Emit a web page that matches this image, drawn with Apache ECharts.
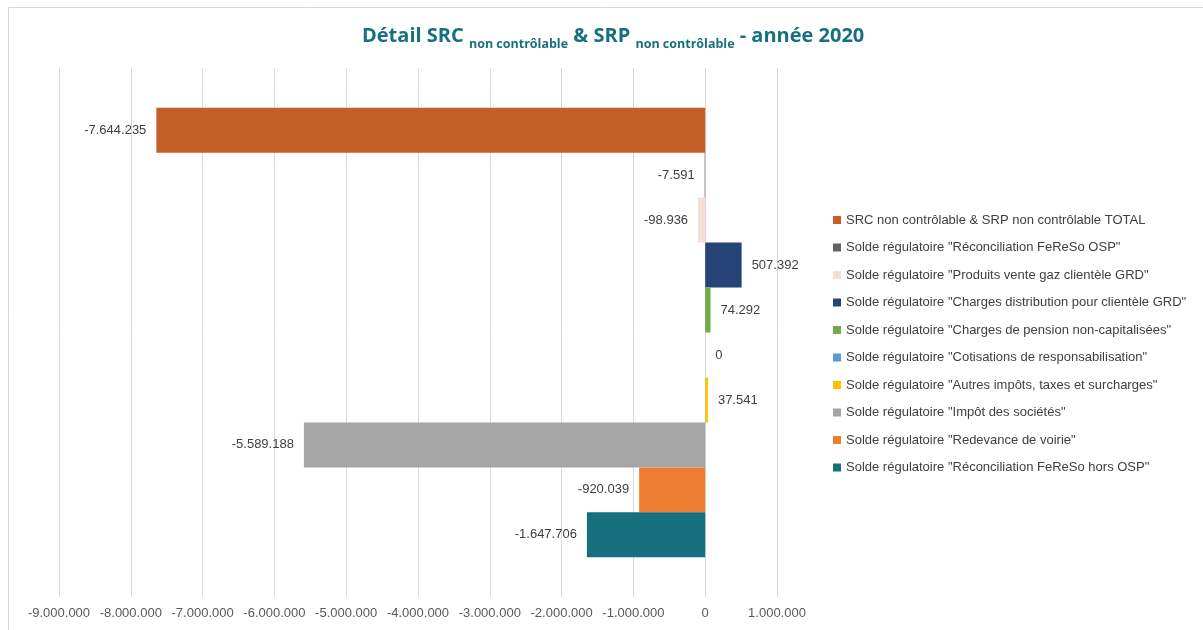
<!DOCTYPE html>
<html>
<head>
<meta charset="utf-8">
<script src="https://cdn.jsdelivr.net/npm/echarts@6/dist/echarts.min.js"></script>
<style>html,body{margin:0;padding:0;background:#fff;}#c{width:1203px;height:630px;}</style>
</head>
<body>
<div id="c"></div>
<script>
const seriesNames = [
  'SRC non contrôlable & SRP non contrôlable TOTAL',
  'Solde régulatoire "Réconciliation FeReSo OSP"',
  'Solde régulatoire "Produits vente gaz clientèle GRD"',
  'Solde régulatoire "Charges distribution pour clientèle GRD"',
  'Solde régulatoire "Charges de pension non-capitalisées"',
  'Solde régulatoire "Cotisations de responsabilisation"',
  'Solde régulatoire "Autres impôts, taxes et surcharges"',
  'Solde régulatoire "Impôt des sociétés"',
  'Solde régulatoire "Redevance de voirie"',
  'Solde régulatoire "Réconciliation FeReSo hors OSP"'
];
const seriesValues = [-7644235, -7591, -98936, 507392, 74292, 0, 37541, -5589188, -920039, -1647706];
const seriesColors = ['#C55F27', '#636363', '#F6DDD3', '#264478', '#70AD47', '#5B9BD5', '#FFC000', '#A5A5A5', '#ED7D31', '#156F7C'];
const categories = [''];
const xMin = -9000000, xMax = 1000000, xStep = 1000000;

function fmt(v) {
  const s = Math.abs(Math.round(v)).toString().replace(/\B(?=(\d{3})+(?!\d))/g, '.');
  return (v < 0 ? '-' : '') + s;
}

const chart = echarts.init(document.getElementById('c'), null, {renderer: 'canvas'});
const tc = '#17707F';
const series = seriesNames.map((n, i) => ({
  name: n,
  type: 'bar',
  data: [seriesValues[i]],
  barGap: '0%',
  barCategoryGap: '15%',
  itemStyle: {color: seriesColors[i]},
  label: {
    show: true,
    position: seriesValues[i] < 0 ? 'left' : 'right',
    distance: 10,
    color: '#404040',
    fontSize: 13,
    fontFamily: 'Liberation Sans',
    formatter: p => fmt(p.value)
  }
}));

chart.setOption({
  animation: false,
  backgroundColor: '#fff',
  title: {
    text: '{a|Détail SRC }{s|non contrôlable}{a| & SRP }{s|non contrôlable}{a| - année 2020}',
    left: 357,
    top: 21,
    textStyle: {
      rich: {
        a: {fontSize: 20, fontWeight: 'bold', color: tc, fontFamily: 'Open Sans', padding: [0, 0, 5, 0], verticalAlign: 'bottom'},
        s: {fontSize: 12.5, fontWeight: 'bold', color: tc, fontFamily: 'Open Sans', verticalAlign: 'bottom'}
      }
    }
  },
  legend: {
    orient: 'vertical',
    left: 828,
    top: 207,
    icon: 'rect',
    itemWidth: 8,
    itemHeight: 8,
    itemGap: 11.5,
    itemStyle: {borderWidth: 0},
    textStyle: {color: '#404040', fontSize: 13, fontFamily: 'Liberation Sans', lineHeight: 16},
    data: seriesNames
  },
  grid: {left: 59, right: 426, top: 68, bottom: 33, containLabel: false},
  xAxis: {
    type: 'value',
    min: xMin,
    max: xMax,
    interval: xStep,
    axisLine: {show: false},
    axisTick: {show: false},
    splitLine: {show: true, lineStyle: {color: '#D9D9D9', width: 1}},
    axisLabel: {color: '#595959', fontSize: 13, fontFamily: 'Liberation Sans', margin: 10, formatter: v => fmt(v)}
  },
  yAxis: {
    type: 'category',
    data: categories,
    inverse: true,
    axisLine: {show: false},
    axisTick: {show: false},
    axisLabel: {show: false}
  },
  graphic: [{
    type: 'rect',
    shape: {x: 8.5, y: 7.5, width: 1200, height: 640},
    style: {fill: 'none', stroke: '#D9D9D9', lineWidth: 1},
    silent: true,
    z: -1
  }],
  series: series
});
</script>
</body>
</html>
